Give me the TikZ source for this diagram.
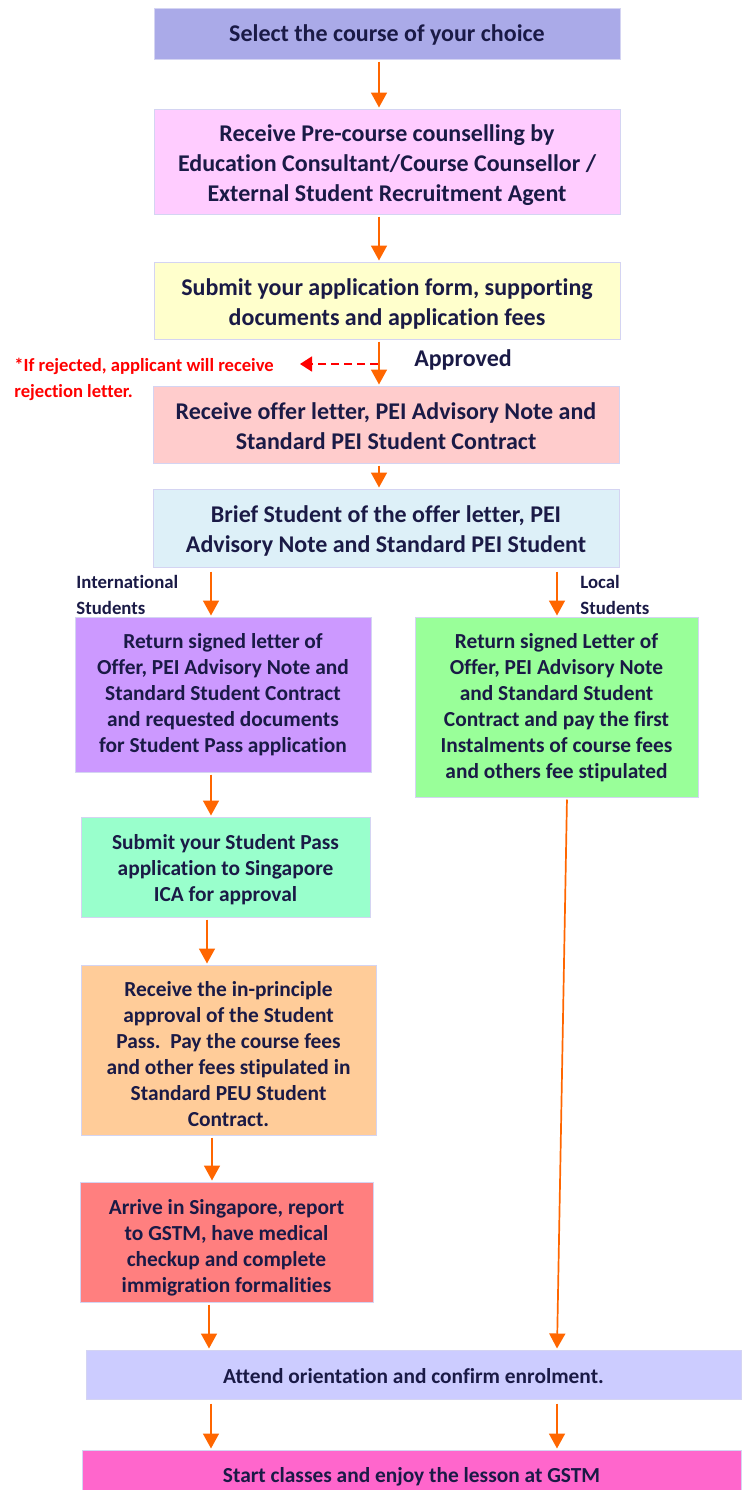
\documentclass[tikz,border=0pt]{standalone}
\usepackage{fontspec}
\setmainfont{Carlito}[Ligatures={NoCommon}]
\usetikzlibrary{arrows.meta}
\definecolor{navy}{HTML}{1A1A46}
\definecolor{boxline}{HTML}{D4D4F2}
\definecolor{orangec}{HTML}{FF6600}
\definecolor{redc}{HTML}{FF0000}
\definecolor{cSel}{HTML}{AAAAE8}
\definecolor{cPre}{HTML}{FFCCFF}
\definecolor{cSub}{HTML}{FFFFCC}
\definecolor{cOff}{HTML}{FFCCCC}
\definecolor{cBrf}{HTML}{DDF0F8}
\definecolor{cIntl}{HTML}{CC99FF}
\definecolor{cLoc}{HTML}{99FF99}
\definecolor{cSp}{HTML}{99FFCC}
\definecolor{cIp}{HTML}{FFCC99}
\definecolor{cArr}{HTML}{FF7F7F}
\definecolor{cAtt}{HTML}{CCCCFF}
\definecolor{cSt}{HTML}{FF66CC}
\begin{document}
\begin{tikzpicture}[x=0.5pt,y=-0.5pt,
  boxshape/.style={draw=boxline, line width=0.5pt, inner sep=0pt},
  bigtext/.style={inner sep=0pt, align=center, text=navy,
    font=\bfseries\fontsize{12}{15}\selectfont},
  smalltext/.style={inner sep=0pt, align=center, text=navy,
    font=\bfseries\fontsize{10.7}{13}\selectfont},
  lbl/.style={inner sep=0pt, align=left, text=navy, font=\bfseries\fontsize{9.4}{13}\selectfont},
  arr/.style={draw=orangec, line width=0.85pt, shorten <=1pt, shorten >=0.5pt,
    -{Triangle[width=8pt,length=7.5pt]}},
  dasharr/.style={draw=redc, line width=0.85pt, dash pattern=on 4pt off 2.5pt,
    -{Triangle[width=7.5pt,length=6pt]}},
]
\useasboundingbox (0,0) rectangle (748,1490);

% boxes
\node[boxshape, fill=cSel, minimum width=233pt, minimum height=25.5pt] (sel) at (387,33.5) {};
\node[boxshape, fill=cPre, minimum width=233pt, minimum height=52.5pt] (pre) at (387,161.5) {};
\node[boxshape, fill=cSub, minimum width=233pt, minimum height=38.5pt] (sub) at (387,300.5) {};
\node[boxshape, fill=cOff, minimum width=233pt, minimum height=38.5pt] (off) at (386,424.5) {};
\node[boxshape, fill=cBrf, minimum width=233pt, minimum height=39pt] (brf) at (386,528) {};
\node[boxshape, fill=cIntl, minimum width=148pt, minimum height=77.5pt] (intl) at (223,694.5) {};
\node[boxshape, fill=cLoc, minimum width=141.5pt, minimum height=90pt] (loc) at (556.5,707) {};
\node[boxshape, fill=cSp, minimum width=144.5pt, minimum height=50pt] (sp) at (225.5,867) {};
\node[boxshape, fill=cIp, minimum width=147.5pt, minimum height=85pt] (ip) at (228.5,1050) {};
\node[boxshape, fill=cArr, minimum width=146.5pt, minimum height=60pt] (arv) at (226.5,1242) {};
\node[boxshape, fill=cAtt, minimum width=327.5pt, minimum height=24.5pt] (att) at (413.5,1374.5) {};
\node[boxshape, fill=cSt, minimum width=329.5pt, minimum height=25pt] (st) at (411.5,1475) {};

% box texts
\node[bigtext] (selT) at ([yshift=-0.5pt]sel.center) {Select the course of your choice};
\node[bigtext] (preT) at ([yshift=-2pt]pre.center)
  {Receive Pre-course counselling by\\Education Consultant/Course Counsellor /\\External Student Recruitment Agent};
\node[bigtext] (subT) at ([yshift=-1.5pt]sub.center)
  {Submit your application form, supporting\\documents and application fees};
\node[bigtext] (offT) at ([yshift=-0.8pt]off.center)
  {Receive offer letter, PEI Advisory Note and\\Standard PEI Student Contract};
\node[bigtext] (brfT) at ([yshift=-1.5pt]brf.center)
  {Brief Student of the offer letter, PEI\\Advisory Note and Standard PEI Student};
\node[smalltext] (intlT) at (intl.center)
  {Return signed letter of\\Offer, PEI Advisory Note and\\Standard Student Contract\\and requested documents\\for Student Pass application};
\node[smalltext] (locT) at ([yshift=-0.3pt]loc.center)
  {Return signed Letter of\\Offer, PEI Advisory Note\\and Standard Student\\Contract and pay the first\\Instalments of course fees\\and others fee stipulated};
\node[smalltext] (spT) at ([yshift=-1.2pt]sp.center)
  {Submit your Student Pass\\application to Singapore\\ICA for approval};
\node[smalltext] (ipT) at ([yshift=-2.2pt]ip.center)
  {Receive the in-principle\\approval of the Student\\Pass.\ \ Pay the course fees\\and other fees stipulated in\\Standard PEU Student\\Contract.};
\node[smalltext] (arvT) at ([yshift=-3pt]arv.center)
  {Arrive in Singapore, report\\to GSTM, have medical\\checkup and complete\\immigration formalities};
\node[smalltext] (attT) at ([yshift=-1pt]att.center)
  {Attend orientation and confirm enrolment.};
\node[smalltext] (stT) at ([yshift=-1pt]st.center)
  {Start classes and enjoy the lesson at GSTM};

% labels
\node[lbl, anchor=west] (intlLbl) at (76,595) {International\\Students};
\node[lbl, anchor=west] (locLbl) at (580,595) {Local\\Students};
\node[inner sep=0pt, anchor=center, text=navy, font=\bfseries\fontsize{12}{14}\selectfont] (appr) at (463,360) {Approved};
\node[inner sep=0pt, anchor=west, align=left, text=redc, font=\bfseries\fontsize{9.3}{13}\selectfont] (rej) at (14,379)
  {*If rejected, applicant will receive\\rejection letter.};

% column coordinates
\coordinate (cM) at (379,0);
\coordinate (cL) at (211,0);
\coordinate (cR) at (557,0);
\coordinate (cSpX) at (207,0);
\coordinate (cIpX) at (212,0);
\coordinate (cArX) at (209,0);
\coordinate (dashStart) at (378,364);
\coordinate (dashEnd) at (300,364);
\coordinate (locOut) at (567,0);

% connectors
\draw[arr] (sel.south -| cM) -- (pre.north -| cM);
\draw[arr] (pre.south -| cM) -- (sub.north -| cM);
\draw[arr] (sub.south -| cM) -- (off.north -| cM);
\draw[arr] (off.south -| cM) -- (brf.north -| cM);
\draw[dasharr] (dashStart) -- (dashEnd);
\draw[arr] ([yshift=-1pt]brf.south -| cL) -- (intl.north -| cL);
\draw[arr] ([yshift=-1pt]brf.south -| cR) -- (loc.north -| cR);
\draw[arr] (intl.south -| cL) -- (sp.north -| cL);
\draw[arr] (sp.south -| cSpX) -- (ip.north -| cSpX);
\draw[arr] (ip.south -| cIpX) -- (arv.north -| cIpX);
\draw[arr] (arv.south -| cArX) -- (att.north -| cArX);
\draw[arr] (loc.south -| locOut) -- (att.north -| cR);
\draw[arr] ([yshift=-1pt]att.south -| cL) -- (st.north -| cL);
\draw[arr] ([yshift=-1pt]att.south -| cR) -- (st.north -| cR);
\end{tikzpicture}
\end{document}
